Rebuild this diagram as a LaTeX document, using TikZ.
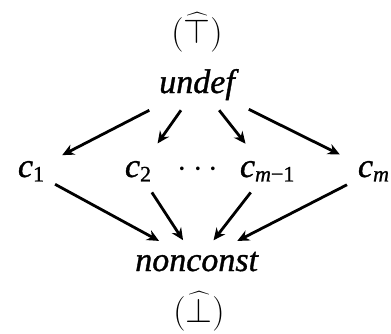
\documentclass[tikz,border=0pt]{standalone}
\usepackage{fontspec}
\setmainfont{Liberation Serif}
\usetikzlibrary{arrows.meta,positioning}
\newcommand{\csub}[1]{\textit{c}\raisebox{-2.2pt}{\fontsize{11}{12}\selectfont\addfontfeatures{FakeBold=1}#1}}
\begin{document}
\begin{tikzpicture}[x=0.5pt,y=-0.5pt,
  lbl/.style={inner sep=2pt,outer sep=3pt,font=\fontsize{17}{20}\selectfont\addfontfeatures{FakeBold=1}},
  cnode/.style={lbl,anchor=base west,outer sep=3.5pt},
  ar/.style={-{Stealth[length=6pt,width=5.5pt]},line width=1.4pt,shorten >=1pt}]
\useasboundingbox (0,0) rectangle (391,333);
\node[lbl,anchor=base] (undef) at (199,93) {\textit{undef}};
\node[lbl,anchor=base] (top)   at (197,43) {$(\widehat{\top})$};
\node[cnode] (c1)  at (7,177)   {\csub{1}};
\node[cnode] (c2)  at (114,177) {\csub{2}};
\node[lbl,anchor=base] (dots) at (198,177) {$\cdots$};
\node[cnode] (cm1) at (229,177) {\csub{\textit{m}−1}};
\node[cnode] (cm)  at (347,177) {\csub{\textit{m}}};
\node[lbl,anchor=base] (nonconst) at (197,271) {\textit{nonconst}};
\node[lbl,anchor=base] (bot)   at (199,322) {$(\widehat{\bot})$};
% upper arrows
\draw[ar,shorten >=4pt] (undef) -- (c1);
\draw[ar,shorten >=4pt] (undef) -- (c2);
\draw[ar,shorten >=4pt] (undef) -- (cm1);
\draw[ar,shorten >=4pt] (undef) -- (cm);
% lower arrows
\draw[ar] (c1)  -- (nonconst);
\draw[ar] (c2)  -- (nonconst);
\draw[ar] (cm1) -- (nonconst);
\draw[ar] (cm)  -- (nonconst);
\end{tikzpicture}
\end{document}
